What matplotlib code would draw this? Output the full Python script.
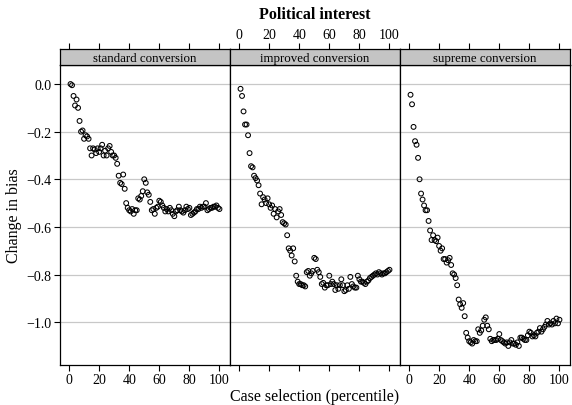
import numpy as np
import matplotlib
matplotlib.use("Agg")
import matplotlib.pyplot as plt

plt.rcParams['font.family'] = ['Liberation Serif', 'DejaVu Serif']

# data (x = 1..100 percentile)
pct = np.arange(1, 101)

standard = [
    0.00, -0.005, -0.05, -0.09, -0.065, -0.10, -0.155, -0.20, -0.195, -0.23,
    -0.215, -0.22, -0.23, -0.27, -0.30, -0.27, -0.275, -0.29, -0.27, -0.285,
    -0.27, -0.255, -0.30, -0.28, -0.30, -0.27, -0.26, -0.285, -0.30, -0.30,
    -0.31, -0.335, -0.385, -0.415, -0.42, -0.38, -0.44, -0.50, -0.52, -0.53,
    -0.535, -0.525, -0.545, -0.53, -0.53, -0.48, -0.485, -0.47, -0.45, -0.40,
    -0.415, -0.455, -0.465, -0.495, -0.53, -0.525, -0.545, -0.52, -0.515, -0.49,
    -0.495, -0.51, -0.52, -0.535, -0.525, -0.535, -0.52, -0.53, -0.545, -0.555,
    -0.535, -0.53, -0.515, -0.53, -0.535, -0.54, -0.53, -0.515, -0.525, -0.52,
    -0.55, -0.545, -0.54, -0.535, -0.525, -0.525, -0.515, -0.52, -0.515, -0.515,
    -0.50, -0.53, -0.525, -0.52, -0.52, -0.515, -0.515, -0.51, -0.52, -0.525]

improved = [
    -0.02, -0.05, -0.115, -0.17, -0.17, -0.215, -0.29, -0.345, -0.35, -0.385,
    -0.395, -0.405, -0.425, -0.46, -0.505, -0.475, -0.485, -0.50, -0.48, -0.505,
    -0.52, -0.51, -0.545, -0.525, -0.56, -0.535, -0.525, -0.55, -0.58, -0.585,
    -0.59, -0.635, -0.69, -0.70, -0.72, -0.69, -0.745, -0.805, -0.83, -0.84,
    -0.84, -0.845, -0.845, -0.85, -0.79, -0.785, -0.805, -0.795, -0.785, -0.73,
    -0.735, -0.78, -0.79, -0.81, -0.84, -0.835, -0.855, -0.845, -0.845, -0.805,
    -0.84, -0.83, -0.84, -0.865, -0.845, -0.86, -0.845, -0.82, -0.845, -0.87,
    -0.865, -0.845, -0.86, -0.81, -0.84, -0.85, -0.855, -0.855, -0.805, -0.82,
    -0.83, -0.83, -0.835, -0.84, -0.83, -0.825, -0.815, -0.81, -0.805, -0.80,
    -0.795, -0.80, -0.79, -0.795, -0.80, -0.795, -0.795, -0.79, -0.785, -0.78]

supreme = [
    -0.045, -0.085, -0.18, -0.24, -0.255, -0.31, -0.40, -0.46, -0.485, -0.51,
    -0.53, -0.53, -0.575, -0.615, -0.655, -0.635, -0.655, -0.66, -0.645, -0.68,
    -0.70, -0.69, -0.735, -0.735, -0.75, -0.74, -0.73, -0.76, -0.795, -0.80,
    -0.815, -0.845, -0.905, -0.925, -0.94, -0.92, -0.975, -1.045, -1.065, -1.08,
    -1.085, -1.09, -1.075, -1.08, -1.08, -1.03, -1.045, -1.035, -1.015, -0.99,
    -0.98, -1.015, -1.03, -1.07, -1.08, -1.075, -1.075, -1.075, -1.07, -1.05,
    -1.075, -1.08, -1.085, -1.09, -1.085, -1.10, -1.085, -1.075, -1.09, -1.09,
    -1.095, -1.085, -1.10, -1.065, -1.065, -1.07, -1.075, -1.075, -1.055, -1.04,
    -1.045, -1.06, -1.055, -1.06, -1.045, -1.04, -1.025, -1.04, -1.03, -1.02,
    -1.01, -0.995, -1.01, -1.005, -1.01, -0.995, -1.005, -0.985, -1.005, -0.99]

panels = ["standard conversion", "improved conversion", "supreme conversion"]
series = [standard, improved, supreme]
xticks = [0, 20, 40, 60, 80, 100]
yticks = [0.0, -0.2, -0.4, -0.6, -0.8, -1.0]
ylabels = ["0.0", "\u22120.2", "\u22120.4", "\u22120.6", "\u22120.8", "\u22121.0"]

W, H = 572, 406
fig = plt.figure(figsize=(W / 100, H / 100), dpi=100)

left, right = 60, 570
pbot, ptop, stop = 366, 66, 50
pw = (right - left) / 3

for i, (name, vals) in enumerate(zip(panels, series)):
    x0 = left + i * pw
    ax = fig.add_axes([x0 / W, 1 - pbot / H, pw / W, (pbot - ptop) / H])
    for y in yticks:
        ax.axhline(y, color="#c8c8c8", lw=0.9, zorder=0)
    ax.scatter(pct, vals, s=12, facecolors="none", edgecolors="black", linewidths=0.75, zorder=2)
    ax.set_xlim(-6, 107)
    ax.set_ylim(-1.18, 0.08)
    ax.set_xticks(xticks)
    ax.set_yticks(yticks)
    ax.tick_params(direction="out", length=4, width=0.8, labelsize=10, pad=2,
                   top=False, right=False)
    if i == 1:
        ax.set_xticklabels([])
    else:
        ax.set_xticklabels([str(t) for t in xticks])
    if i == 0:
        ax.set_yticklabels(ylabels)
    else:
        ax.tick_params(left=False, labelleft=False)
    for s in ax.spines.values():
        s.set_linewidth(0.9)

    # strip on top of panel
    st = fig.add_axes([x0 / W, 1 - ptop / H, pw / W, (ptop - stop) / H])
    st.set_facecolor("#c4c4c4")
    st.set_xlim(-6, 107)
    st.set_ylim(0, 1)
    st.set_yticks([])
    st.set_xticks(xticks)
    st.xaxis.set_ticks_position("top")
    st.tick_params(direction="out", length=4, width=0.8, labelsize=10, pad=2,
                   bottom=False, labelbottom=False)
    if i == 1:
        st.set_xticklabels([str(t) for t in xticks])
    else:
        st.set_xticklabels([])
    st.text(0.5, 0.45, name, transform=st.transAxes, ha="center", va="center", fontsize=9.3)
    for s in st.spines.values():
        s.set_linewidth(0.9)

fig.text(315 / W, 1 - 15 / H, "Political interest", ha="center", va="center",
         fontsize=11.5, fontweight="bold")
fig.text(315 / W, 1 - 397 / H, "Case selection (percentile)", ha="center", va="center",
         fontsize=11.5)
fig.text(14 / W, 1 - 216 / H, "Change in bias", ha="center", va="center",
         rotation=90, fontsize=11.5)

fig.savefig("out.png", dpi=100)
